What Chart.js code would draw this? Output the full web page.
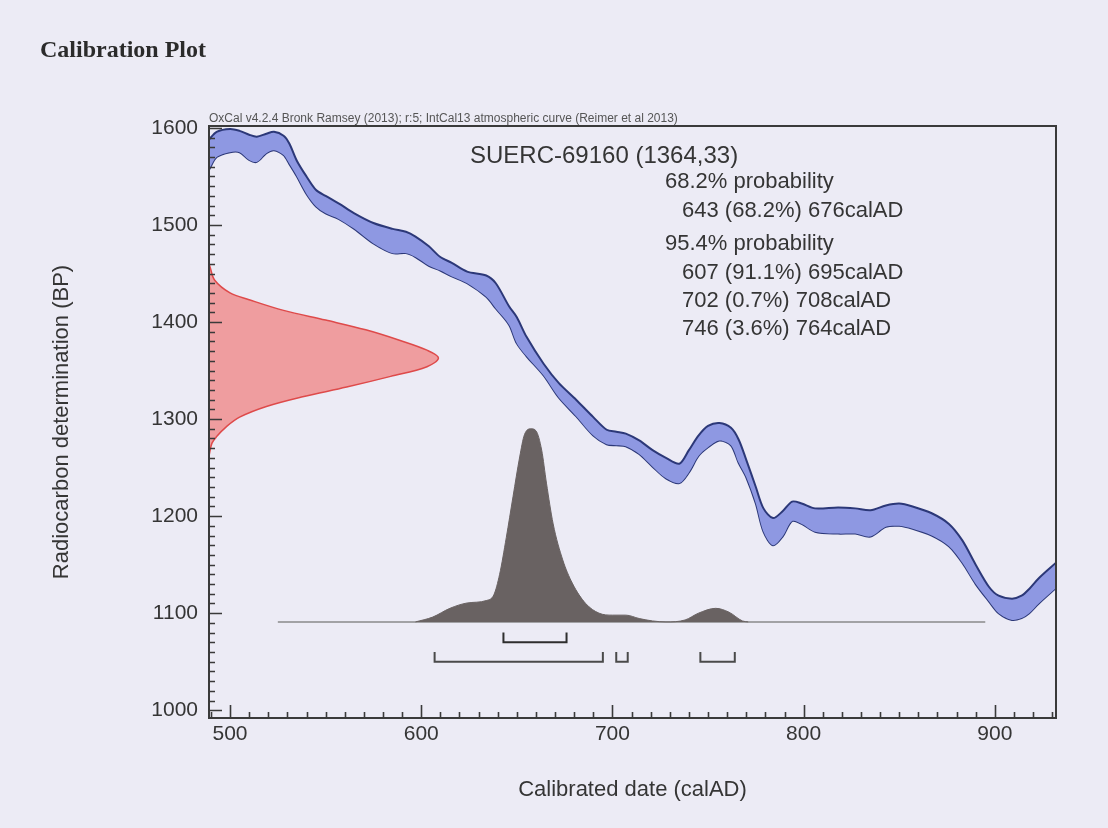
<!DOCTYPE html>
<html>
<head>
<meta charset="utf-8">
<script src="https://cdn.jsdelivr.net/npm/chart.js@4.4.0/dist/chart.umd.min.js"></script>
<style>
  html, body { margin: 0; padding: 0; background: #ecebf5; }
</style>
</head>
<body>
<canvas id="calPlot" width="1108" height="828"></canvas>
<script>
// IntCal13 band (upper / lower edge, BP)
const curveYears = [489, 493, 500, 505, 510, 514, 519, 523, 528, 531, 535, 540, 545, 550, 557, 565, 575, 585, 592, 597,
  604, 610, 616, 624, 634, 639, 646, 650, 655, 664, 672, 681, 690, 697, 702, 707, 714, 721, 728, 735,
  740, 745, 750, 756, 762, 766, 770, 775, 779, 784, 789, 794, 799, 806, 818, 827, 835, 843, 850, 857,
  867, 876, 883, 890, 897, 902, 909, 914, 918, 923, 932]
const curveUpper = [1588, 1596, 1599, 1597, 1593, 1591, 1594, 1596, 1592, 1584, 1566, 1550, 1536, 1530, 1522, 1512, 1502, 1496, 1493, 1488,
  1478, 1467, 1461, 1452, 1448, 1440, 1416, 1405, 1385, 1357, 1337, 1320, 1302, 1289, 1287, 1285, 1278, 1268, 1260, 1254,
  1268, 1283, 1293, 1296, 1291, 1279, 1258, 1230, 1208, 1198, 1205, 1215, 1213, 1208, 1209, 1208, 1206, 1211, 1213, 1210,
  1203, 1192, 1175, 1150, 1127, 1118, 1115, 1118, 1125, 1136, 1152]
const curveLower = [1557, 1570, 1575, 1575, 1567, 1565, 1574, 1577, 1572, 1563, 1550, 1532, 1519, 1512, 1506, 1496, 1481, 1471, 1471, 1467,
  1458, 1453, 1447, 1440, 1426, 1414, 1397, 1378, 1365, 1345, 1322, 1303, 1283, 1274, 1273, 1272, 1264, 1251, 1239, 1234,
  1245, 1262, 1271, 1278, 1273, 1255, 1240, 1213, 1184, 1170, 1179, 1195, 1192, 1184, 1182, 1182, 1179, 1189, 1190, 1187,
  1180, 1169, 1152, 1130, 1112, 1100, 1093, 1095, 1100, 1110, 1126]

// radiocarbon date 1364 +/- 33, drawn sideways off the y axis
const dateBP =    [1460, 1457, 1443, 1430, 1423, 1412, 1402, 1392, 1381, 1371, 1363, 1354, 1344, 1333, 1323, 1313, 1302, 1292, 1282, 1275, 1262]
const dateReach = [489, 489.5, 492, 500, 510, 528, 550, 571, 589, 603, 609, 603, 584, 561, 538, 519, 505, 498, 493, 490.5, 489]

// calibrated distribution
const postYears = [597, 606, 615, 624, 634, 638, 641, 644.5, 648, 651.5, 654, 657.5, 660, 663, 665.5, 669, 674, 679, 686, 693,
  700, 707, 714, 721, 728, 738, 745, 754, 761, 768, 771]
const postBP = [1091, 1096, 1105, 1110.5, 1113, 1119, 1140, 1178, 1220, 1261, 1284, 1290, 1288, 1268, 1234, 1192, 1155, 1131, 1110, 1100,
  1098, 1098, 1094.5, 1092, 1091, 1093, 1100, 1105, 1101, 1092, 1091]
const postBase = 1091
const postSpan = [525, 895]

// ranges: from, to, probability
const range68 = [[643, 676, 68.2]]
const range95 = [[607, 695, 91.1], [702, 708, 0.7], [746, 764, 3.6]]

const xTicks = [500, 600, 700, 800, 900]
const yTicks = [1000, 1100, 1200, 1300, 1400, 1500, 1600]

const sans = '"Liberation Sans", Arial, Helvetica, sans-serif'
const ink = '#353535'

function brackets(ranges, level) {
  let pts = []
  ranges.forEach(r => {
    pts.push({x: r[0], y: level + 10}, {x: r[0], y: level}, {x: r[1], y: level}, {x: r[1], y: level + 10})
    pts.push({x: r[1] + 1, y: null})
  })
  return pts
}

const frame = {
  id: 'frame',
  afterDatasetsDraw(chart) {
    const {ctx, chartArea: a, scales: {x, y}} = chart
    ctx.save()
    ctx.strokeStyle = '#3a3a3a'
    ctx.lineWidth = 2
    ctx.strokeRect(a.left, a.top, a.right - a.left, a.bottom - a.top)
    ctx.lineWidth = 1.6
    ctx.beginPath()
    for (let v = 490; v <= 930; v += 10) {
      let px = Math.round(x.getPixelForValue(v)) + 0.5
      let len = v % 100 == 0 ? 13 : 6
      ctx.moveTo(px, a.bottom)
      ctx.lineTo(px, a.bottom - len)
    }
    for (let v = 1000; v <= 1600; v += 10) {
      let py = Math.round(y.getPixelForValue(v)) + 0.5
      let len = v % 100 == 0 ? 13 : 6
      ctx.moveTo(a.left, py)
      ctx.lineTo(a.left + len, py)
    }
    ctx.stroke()
    ctx.restore()
  },
  afterDraw(chart) {
    const {ctx, chartArea: a} = chart
    ctx.save()
    ctx.fillStyle = '#2b2b2b'
    ctx.font = 'bold 24px "Liberation Serif", "Times New Roman", serif'
    ctx.fillText('Calibration Plot', 40, 57)

    ctx.fillStyle = '#555'
    ctx.font = '12px ' + sans
    ctx.fillText('OxCal v4.2.4 Bronk Ramsey (2013); r:5; IntCal13 atmospheric curve (Reimer et al 2013)', a.left, a.top - 4, 535)

    ctx.fillStyle = ink
    ctx.font = '24px ' + sans
    ctx.fillText('SUERC-69160 (1364,33)', 470, 163)

    ctx.font = '22px ' + sans
    let lines = [['68.2% probability', 665, 188]]
    let yy = 217
    range68.forEach(r => { lines.push([r[0] + ' (' + r[2] + '%) ' + r[1] + 'calAD', 682, yy]); yy += 28 })
    lines.push(['95.4% probability', 665, 250])
    yy = 279
    range95.forEach(r => { lines.push([r[0] + ' (' + r[2] + '%) ' + r[1] + 'calAD', 682, yy]); yy += 28 })
    lines.forEach(l => ctx.fillText(l[0], l[1], l[2]))
    ctx.restore()
  }
}

const bg = {
  id: 'bg',
  beforeDraw(chart) {
    const ctx = chart.ctx
    ctx.save()
    ctx.fillStyle = '#ecebf5'
    ctx.fillRect(0, 0, chart.width, chart.height)
    ctx.restore()
  }
}

const ctx = document.getElementById('calPlot').getContext('2d')
new Chart(ctx, {
  type: 'line',
  data: {
    datasets: [
      {
        label: 'upper',
        data: curveYears.map((v, i) => ({x: v, y: curveUpper[i]})),
        borderColor: '#2c3878',
        borderWidth: 2,
        backgroundColor: '#8e98e2',
        fill: '+1',
        tension: 0.3
      },
      {
        label: 'lower',
        data: curveYears.map((v, i) => ({x: v, y: curveLower[i]})),
        borderColor: '#2c3878',
        borderWidth: 2,
        fill: false,
        tension: 0.3
      },
      {
        label: 'date',
        data: dateBP.map((v, i) => ({x: dateReach[i], y: v})),
        borderColor: '#de4a4a',
        borderWidth: 1.5,
        backgroundColor: '#ef9d9f',
        fill: 'shape',
        tension: 0.35
      },
      {
        label: 'posterior',
        data: postYears.map((v, i) => ({x: v, y: postBP[i]})),
        borderColor: '#696262',
        borderWidth: 1,
        backgroundColor: '#696262',
        fill: {value: postBase},
        cubicInterpolationMode: 'monotone'
      },
      {
        label: 'base',
        data: postSpan.map(v => ({x: v, y: postBase})),
        borderColor: '#8a8a8a',
        borderWidth: 1.5,
        fill: false
      },
      {
        label: '68',
        data: brackets(range68, 1070),
        borderColor: '#2e2e2e',
        borderWidth: 2,
        fill: false
      },
      {
        label: '95',
        data: brackets(range95, 1050),
        borderColor: '#4a4a4a',
        borderWidth: 2,
        fill: false
      }
    ]
  },
  options: {
    responsive: false,
    animation: false,
    layout: { padding: {top: 126, right: 52, bottom: 0, left: 0} },
    elements: { point: { radius: 0, hoverRadius: 0 } },
    plugins: {
      legend: { display: false },
      tooltip: { enabled: false }
    },
    scales: {
      x: {
        type: 'linear',
        min: 489,
        max: 932,
        grid: { display: false, drawTicks: false },
        border: { display: false },
        afterBuildTicks: s => { s.ticks = xTicks.map(v => ({value: v})) },
        afterFit: s => { s.height = 110 },
        ticks: {
          padding: 4,
          color: ink,
          font: {family: sans, size: 21},
          maxRotation: 0,
          callback: v => String(v)
        },
        title: {
          display: true,
          text: 'Calibrated date (calAD)',
          color: ink,
          font: {family: sans, size: 22},
          padding: {top: 0, bottom: 25}
        }
      },
      y: {
        type: 'linear',
        min: 992,
        max: 1602,
        grid: { display: false, drawTicks: false },
        border: { display: false },
        afterBuildTicks: s => { s.ticks = yTicks.map(v => ({value: v})) },
        afterFit: s => { s.width = 209 },
        ticks: {
          padding: 11,
          color: ink,
          font: {family: sans, size: 21},
          callback: v => String(v)
        },
        title: {
          display: true,
          text: 'Radiocarbon determination (BP)',
          color: ink,
          font: {family: sans, size: 22},
          padding: {top: 49, bottom: 0}
        }
      }
    }
  },
  plugins: [bg, frame]
})
</script>
</body>
</html>
